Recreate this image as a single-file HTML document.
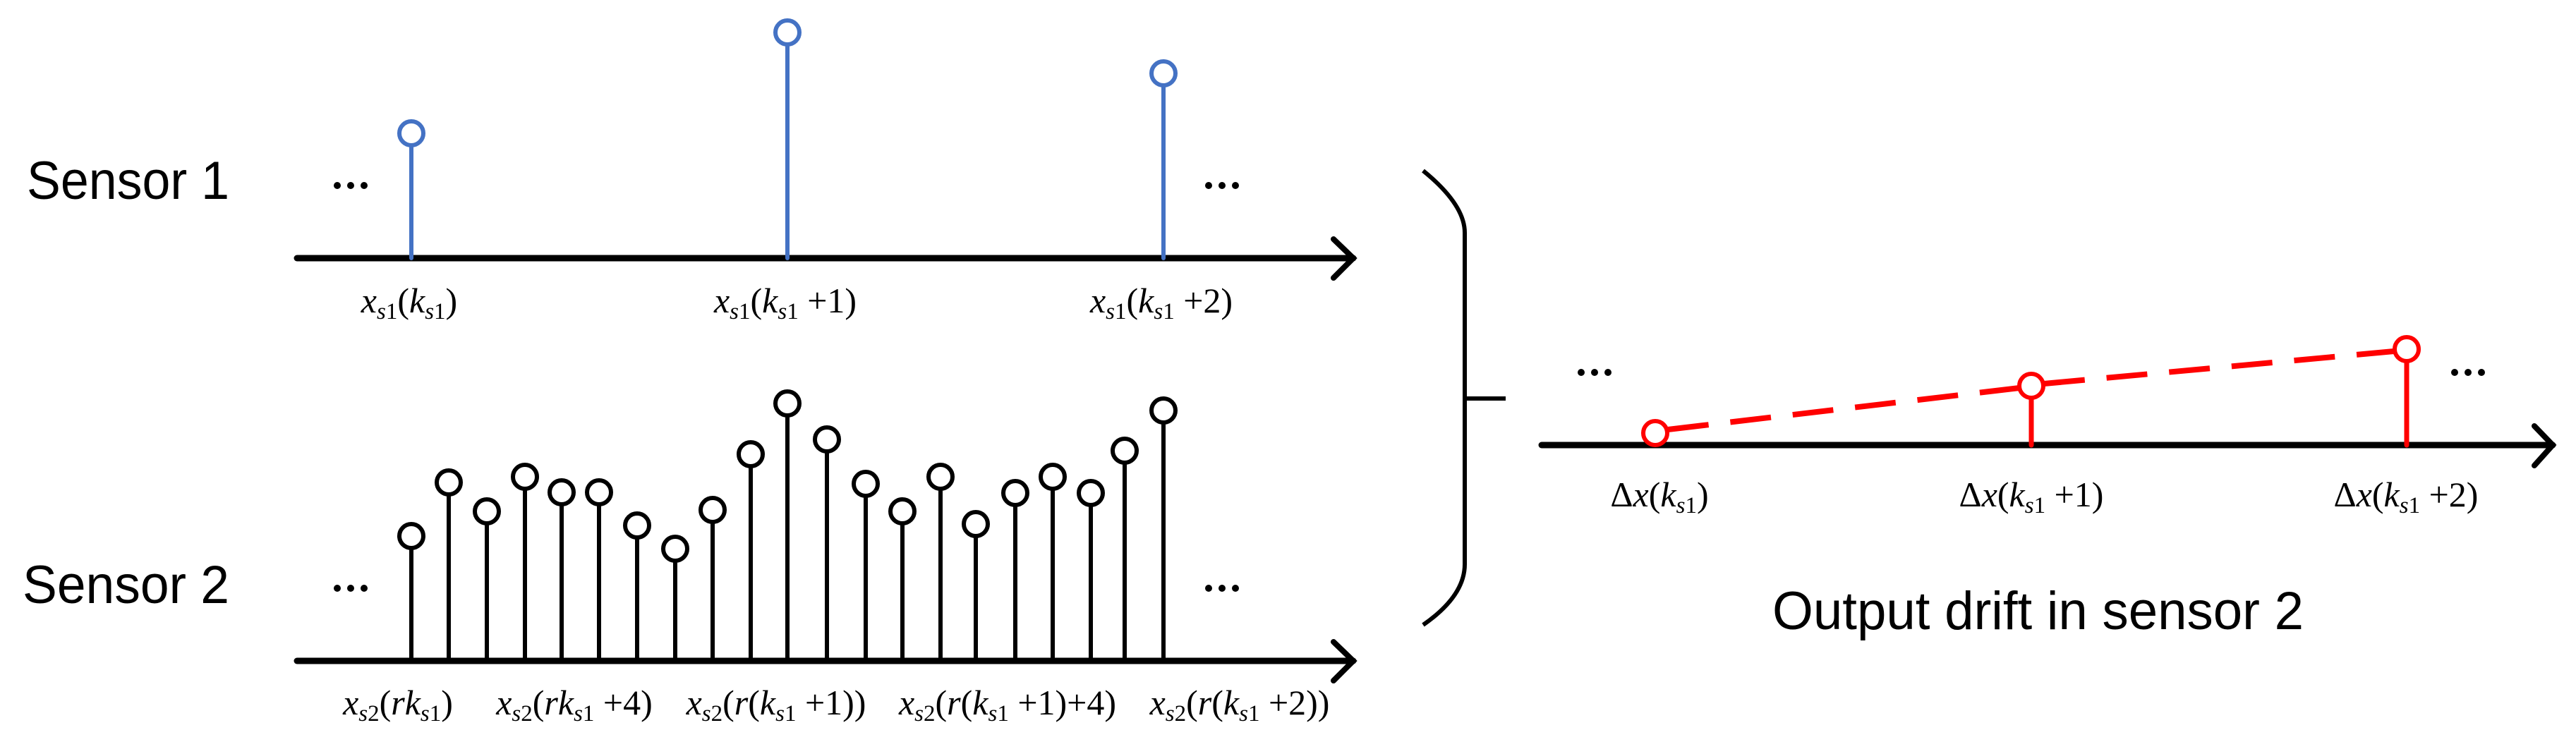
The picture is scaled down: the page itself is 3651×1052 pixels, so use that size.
<!DOCTYPE html>
<html><head><meta charset="utf-8"><style>
html,body{margin:0;padding:0;background:#fff;}
svg{display:block;}
.m{font-family:"Liberation Serif",serif;font-size:50px;}
.i{font-style:italic;}
.s{font-size:33px;font-style:italic;}
.n{font-size:33px;}
.t{font-family:"Liberation Sans",sans-serif;font-size:76px;}
</style></head><body>
<svg width="3651" height="1052" viewBox="0 0 3651 1052" xmlns="http://www.w3.org/2000/svg">
<g fill="none" stroke-linecap="round">
<line x1="421" y1="366" x2="1918" y2="366" stroke="#000" stroke-width="9"/>
<polyline points="1890,339 1918,366 1890,394" stroke="#000" stroke-width="8"/>
<g stroke="#4472C4" stroke-width="6">
<line x1="583" y1="207" x2="583" y2="366"/><circle cx="583" cy="189" r="17"/>
<line x1="1116" y1="64" x2="1116" y2="366"/><circle cx="1116" cy="46" r="17"/>
<line x1="1649" y1="122" x2="1649" y2="366"/><circle cx="1649" cy="104" r="17"/>
</g>
<line x1="421" y1="937" x2="1918" y2="937" stroke="#000" stroke-width="9"/>
<polyline points="1890,910 1918,937 1890,965" stroke="#000" stroke-width="8"/>
<g stroke="#000" stroke-width="6">
<line x1="583" y1="778" x2="583" y2="937"/><circle cx="583" cy="760" r="17"/>
<line x1="636" y1="702" x2="636" y2="937"/><circle cx="636" cy="684" r="17"/>
<line x1="690" y1="743" x2="690" y2="937"/><circle cx="690" cy="725" r="17"/>
<line x1="744" y1="694" x2="744" y2="937"/><circle cx="744" cy="676" r="17"/>
<line x1="796" y1="716" x2="796" y2="937"/><circle cx="796" cy="698" r="17"/>
<line x1="849" y1="716" x2="849" y2="937"/><circle cx="849" cy="698" r="17"/>
<line x1="903" y1="763" x2="903" y2="937"/><circle cx="903" cy="745" r="17"/>
<line x1="957" y1="796" x2="957" y2="937"/><circle cx="957" cy="778" r="17"/>
<line x1="1010" y1="741" x2="1010" y2="937"/><circle cx="1010" cy="723" r="17"/>
<line x1="1064" y1="662" x2="1064" y2="937"/><circle cx="1064" cy="644" r="17"/>
<line x1="1116" y1="590" x2="1116" y2="937"/><circle cx="1116" cy="572" r="17"/>
<line x1="1172" y1="641" x2="1172" y2="937"/><circle cx="1172" cy="623" r="17"/>
<line x1="1227" y1="704" x2="1227" y2="937"/><circle cx="1227" cy="686" r="17"/>
<line x1="1279" y1="743" x2="1279" y2="937"/><circle cx="1279" cy="725" r="17"/>
<line x1="1333" y1="694" x2="1333" y2="937"/><circle cx="1333" cy="676" r="17"/>
<line x1="1383" y1="761" x2="1383" y2="937"/><circle cx="1383" cy="743" r="17"/>
<line x1="1439" y1="717" x2="1439" y2="937"/><circle cx="1439" cy="699" r="17"/>
<line x1="1492" y1="694" x2="1492" y2="937"/><circle cx="1492" cy="676" r="17"/>
<line x1="1546" y1="717" x2="1546" y2="937"/><circle cx="1546" cy="699" r="17"/>
<line x1="1594" y1="657" x2="1594" y2="937"/><circle cx="1594" cy="639" r="17"/>
<line x1="1649" y1="600" x2="1649" y2="937"/><circle cx="1649" cy="582" r="17"/>
</g>
<path d="M2017,242 Q2076,290 2076,330 L2076,800 Q2076,845 2017,886" stroke="#000" stroke-width="6" stroke-linecap="butt"/>
<line x1="2076" y1="565" x2="2134" y2="565" stroke="#000" stroke-width="6" stroke-linecap="butt"/>
<line x1="2185" y1="631" x2="3618" y2="631" stroke="#000" stroke-width="9"/>
<polyline points="3592,604 3618,631 3592,660" stroke="#000" stroke-width="8"/>
<g stroke="#FF0000">
<line x1="2364" y1="609" x2="2862" y2="550" stroke-width="8" stroke-dasharray="58 31" stroke-linecap="butt"/>
<line x1="2897" y1="544" x2="3393" y2="498" stroke-width="8" stroke-dasharray="58 31" stroke-linecap="butt"/>
<line x1="2879" y1="565" x2="2879" y2="631" stroke-width="7"/>
<line x1="3411" y1="513" x2="3411" y2="631" stroke-width="7"/>
<circle cx="2346" cy="614" r="17" stroke-width="6" fill="#fff"/>
<circle cx="2879" cy="547" r="17" stroke-width="6" fill="#fff"/>
<circle cx="3411" cy="495" r="17" stroke-width="6" fill="#fff"/>
</g>
</g>
<g fill="#000">
<circle cx="478" cy="263" r="5"/><circle cx="497" cy="263" r="5"/><circle cx="516" cy="263" r="5"/>
<circle cx="1713" cy="263" r="5"/><circle cx="1732" cy="263" r="5"/><circle cx="1751" cy="263" r="5"/>
<circle cx="478" cy="834" r="5"/><circle cx="497" cy="834" r="5"/><circle cx="516" cy="834" r="5"/>
<circle cx="1713" cy="834" r="5"/><circle cx="1732" cy="834" r="5"/><circle cx="1751" cy="834" r="5"/>
<circle cx="2241" cy="528" r="5"/><circle cx="2260" cy="528" r="5"/><circle cx="2279" cy="528" r="5"/>
<circle cx="3479" cy="528" r="5"/><circle cx="3498" cy="528" r="5"/><circle cx="3517" cy="528" r="5"/>
</g>
<text class="t" x="38" y="282" textLength="287" lengthAdjust="spacingAndGlyphs">Sensor 1</text>
<text class="t" x="32" y="855" textLength="293" lengthAdjust="spacingAndGlyphs">Sensor 2</text>
<text class="t" x="2512" y="892" textLength="753" lengthAdjust="spacingAndGlyphs">Output drift in sensor 2</text>
<g class="m" text-anchor="middle">
<text x="580" y="443"><tspan class="i">x</tspan><tspan class="s" dy="9">s</tspan><tspan class="n">1</tspan><tspan dy="-9">(</tspan><tspan class="i">k</tspan><tspan class="s" dy="9">s</tspan><tspan class="n">1</tspan><tspan dy="-9">)</tspan></text>
<text x="1113" y="443"><tspan class="i">x</tspan><tspan class="s" dy="9">s</tspan><tspan class="n">1</tspan><tspan dy="-9">(</tspan><tspan class="i">k</tspan><tspan class="s" dy="9">s</tspan><tspan class="n">1</tspan><tspan dy="-9"> +1)</tspan></text>
<text x="1646" y="443"><tspan class="i">x</tspan><tspan class="s" dy="9">s</tspan><tspan class="n">1</tspan><tspan dy="-9">(</tspan><tspan class="i">k</tspan><tspan class="s" dy="9">s</tspan><tspan class="n">1</tspan><tspan dy="-9"> +2)</tspan></text>
<text x="564" y="1013"><tspan class="i">x</tspan><tspan class="s" dy="9">s</tspan><tspan class="n">2</tspan><tspan dy="-9">(</tspan><tspan class="i">rk</tspan><tspan class="s" dy="9">s</tspan><tspan class="n">1</tspan><tspan dy="-9">)</tspan></text>
<text x="814" y="1013"><tspan class="i">x</tspan><tspan class="s" dy="9">s</tspan><tspan class="n">2</tspan><tspan dy="-9">(</tspan><tspan class="i">rk</tspan><tspan class="s" dy="9">s</tspan><tspan class="n">1</tspan><tspan dy="-9"> +4)</tspan></text>
<text x="1100" y="1013"><tspan class="i">x</tspan><tspan class="s" dy="9">s</tspan><tspan class="n">2</tspan><tspan dy="-9">(</tspan><tspan class="i">r</tspan><tspan>(</tspan><tspan class="i">k</tspan><tspan class="s" dy="9">s</tspan><tspan class="n">1</tspan><tspan dy="-9"> +1))</tspan></text>
<text x="1428" y="1013"><tspan class="i">x</tspan><tspan class="s" dy="9">s</tspan><tspan class="n">2</tspan><tspan dy="-9">(</tspan><tspan class="i">r</tspan><tspan>(</tspan><tspan class="i">k</tspan><tspan class="s" dy="9">s</tspan><tspan class="n">1</tspan><tspan dy="-9"> +1)+4)</tspan></text>
<text x="1757" y="1013"><tspan class="i">x</tspan><tspan class="s" dy="9">s</tspan><tspan class="n">2</tspan><tspan dy="-9">(</tspan><tspan class="i">r</tspan><tspan>(</tspan><tspan class="i">k</tspan><tspan class="s" dy="9">s</tspan><tspan class="n">1</tspan><tspan dy="-9"> +2))</tspan></text>
<text x="2352" y="718"><tspan>Δ</tspan><tspan class="i">x</tspan><tspan>(</tspan><tspan class="i">k</tspan><tspan class="s" dy="9">s</tspan><tspan class="n">1</tspan><tspan dy="-9">)</tspan></text>
<text x="2879" y="718"><tspan>Δ</tspan><tspan class="i">x</tspan><tspan>(</tspan><tspan class="i">k</tspan><tspan class="s" dy="9">s</tspan><tspan class="n">1</tspan><tspan dy="-9"> +1)</tspan></text>
<text x="3410" y="718"><tspan>Δ</tspan><tspan class="i">x</tspan><tspan>(</tspan><tspan class="i">k</tspan><tspan class="s" dy="9">s</tspan><tspan class="n">1</tspan><tspan dy="-9"> +2)</tspan></text>
</g>
</svg>
</body></html>
